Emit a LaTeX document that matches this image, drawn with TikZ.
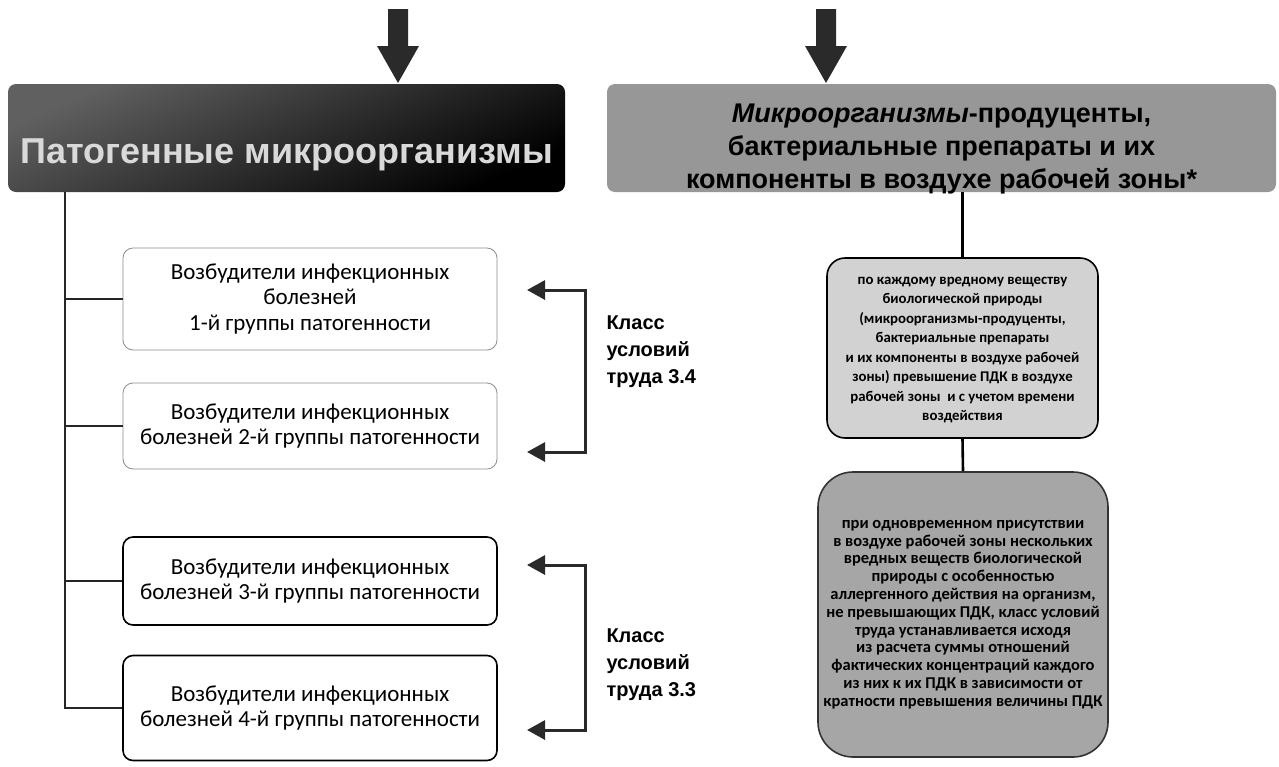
\documentclass[tikz,border=0pt]{standalone}
\usepackage{fontspec}
\usepackage{graphicx}
\setmainfont{Carlito}
\newfontfamily\arialfont{Liberation Sans}
\usetikzlibrary{arrows.meta,calc}

\definecolor{inkgray}{HTML}{2A2A2A}
\definecolor{hdrgray}{HTML}{979797}
\definecolor{boxAgray}{HTML}{D2D2D2}
\definecolor{boxBgray}{HTML}{A6A6A6}

\tikzset{
  header/.style={rounded corners=8pt, minimum width=#1, minimum height=108pt,
    inner sep=0pt, align=center},
  headtext/.style={inner sep=0pt, align=center,
    font=\arialfont\bfseries\fontsize{#1}{33}\selectfont},
  groupbox/.style={draw, rounded corners=10pt, minimum width=374pt,
    inner sep=0pt, align=center, font=\fontsize{23}{25.5}\selectfont},
  lightbox/.style={groupbox, draw=black!45, line width=0.8pt},
  darkbox/.style={groupbox, draw=black, line width=1.6pt},
  treeline/.style={draw=black!85, line width=1.3pt},
  bracket/.style={draw=inkgray, line width=3pt,
    {Triangle[length=18pt,width=19pt]}-{Triangle[length=18pt,width=19pt]}},
  classlabel/.style={anchor=west, align=left,
    font=\arialfont\bfseries\fontsize{20}{27}\selectfont},
  notebox/.style={draw=black, line width=1.6pt, inner sep=0pt, align=center},
  vconn/.style={draw=black, line width=2.6pt},
  bigarrow/.style={fill=inkgray}
}

\begin{document}
\begin{tikzpicture}[x=1pt,y=-1pt]
\useasboundingbox (0,0) rectangle (1279,766);

% top headers
\node[header=557pt, top color=gray!75!black, bottom color=black, shading angle=25]
  (hL) at (286.5,138) {};
\node[headtext=36, text=gray!30] (hLt) at ($(hL.center)+(0,17)$)
  {Патогенные микроорганизмы};
\node[header=669pt, fill=hdrgray] (hR) at (941.5,138) {};
\node[headtext=27] (hRt) at ($(hR.center)+(0,11)$)
  {\textit{Микроорганизмы}-продуценты,\\
   бактериальные препараты и их\\
   компоненты в воздухе рабочей зоны*};

% incoming block arrows
\coordinate (aL) at (398,83);
\coordinate (aR) at (826,83);
\foreach \t in {aL,aR}
  \fill[bigarrow] (\t) -- ++(-21,-37) -- ++(11,0) -- ++(0,-37) -- ++(20,0)
    -- ++(0,37) -- ++(11,0) -- cycle;

% pathogen groups
\node[lightbox, minimum height=102pt] (b1) at (310,299)
  {Возбудители инфекционных\\болезней\\1-й группы патогенности};
\node[lightbox, minimum height=86pt] (b2) at (310,426)
  {Возбудители инфекционных\\болезней 2-й группы патогенности};
\node[darkbox, minimum height=88pt] (b3) at (310,581)
  {Возбудители инфекционных\\болезней 3-й группы патогенности};
\node[darkbox, minimum height=105pt] (b4) at (310,708)
  {Возбудители инфекционных\\болезней 4-й группы патогенности};

% tree from the left header
\coordinate (tx) at (65,0);
\draw[treeline] (hL.south -| tx) |- (b4.west);
\foreach \b in {b1,b2,b3}
  \draw[treeline] (tx |- \b.west) -- (\b.west);

% working-condition class brackets
\coordinate (k1a) at (527,290);
\coordinate (k1b) at (527,452);
\coordinate (k2a) at (527,565);
\coordinate (k2b) at (527,730);
\draw[bracket] (k1a) -- ++(58,0) |- (k1b);
\draw[bracket] (k2a) -- ++(58,0) |- (k2b);
\node[classlabel] (c34) at (603,352) {Класс\\условий\\труда 3.4};
\node[classlabel] (c33) at (603,665) {Класс\\условий\\труда 3.3};

% right column notes
\node[notebox, fill=boxAgray, rounded corners=18pt,
      minimum width=271pt, minimum height=180pt,
      font=\bfseries\fontsize{14.8}{19.5}\selectfont] (nA) at (962.5,348)
  {\\[-8pt]по каждому вредному веществу\\
   биологической природы\\
   (микроорганизмы-продуценты,\\
   бактериальные препараты\\
   и их компоненты в воздухе рабочей\\
   зоны) превышение ПДК в воздухе\\
   рабочей зоны\ \ и с учетом времени\\
   воздействия};
\node[notebox, fill=boxBgray, draw=black!80, rounded corners=35pt,
      minimum width=290pt, minimum height=285pt,
      font=\bfseries\fontsize{16.5}{17.8}\selectfont] (nB) at (963,614.5)
  {при одновременном присутствии\\
   в воздухе рабочей зоны нескольких\\
   вредных веществ биологической\\
   природы с особенностью\\
   аллергенного действия на организм,\\
   не превышающих ПДК, класс условий\\
   труда устанавливается исходя\\
   из расчета суммы отношений\\
   фактических концентраций каждого\\
   из них к их ПДК в зависимости от\\
   кратности превышения величины ПДК};
\draw[vconn] (nA.north |- hR.south) -- (nA.north);
\draw[vconn] (nA.south) -- (nB.north);
\end{tikzpicture}
\end{document}
